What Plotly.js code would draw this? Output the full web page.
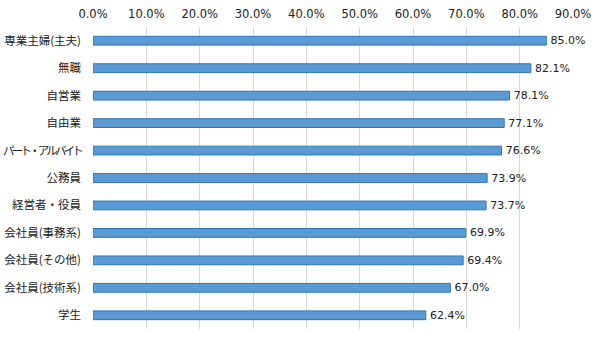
<!DOCTYPE html>
<html><head><meta charset="utf-8">
<script src="https://cdn.plot.ly/plotly-3.0.1.min.js"></script>
<style>html,body{margin:0;padding:0;background:#fff}#chart{width:600px;height:339px}</style>
</head><body><div id="chart"></div>
<script>
const categories = ["専業主婦(主夫)","無職","自営業","自由業","パート・アルバイト","公務員","経営者・役員","会社員(事務系)","会社員(その他)","会社員(技術系)","学生"];
const values = [85.0, 82.1, 78.1, 77.1, 76.6, 73.9, 73.7, 69.9, 69.4, 67.0, 62.4];
const tickVals = [0,10,20,30,40,50,60,70,80,90];
const tickText = tickVals.map(v => v.toFixed(1) + "%");

const jpFont = "'Noto Sans CJK JP', sans-serif";
const numFont = "'DejaVu Sans', Verdana, sans-serif";
const ySize = 11.5, maxW = 78;
function fitLabel(c) {
  let em = 0;
  for (const ch of c) em += ch.charCodeAt(0) < 256 ? 0.35 : 1;
  const w = em * ySize;
  if (w <= maxW) return c;
  const ls = ((maxW - w) / [...c].length).toFixed(2);
  return '<span style="letter-spacing:' + ls + 'px">' + c + '</span>';
}
const yText = categories.map(fitLabel);

Plotly.newPlot("chart", [{
  type: "bar",
  orientation: "h",
  y: categories,
  x: values,
  width: 0.32,
  marker: {color: "#5b9bd5", line: {color: "#2e75b6", width: 1}},
  text: values.map(v => "\u200a" + v.toFixed(1) + "%"),
  textposition: "outside",
  constraintext: "none",
  cliponaxis: false,
  textfont: {family: numFont, size: 11, color: "#222"},
  hoverinfo: "none"
}], {
  width: 600, height: 339,
  margin: {l: 93, r: 27, t: 27, b: 10},
  paper_bgcolor: "#fff", plot_bgcolor: "#fff",
  showlegend: false,
  font: {family: numFont, size: 11, color: "#222"},
  xaxis: {
    side: "top", range: [0, 90], tickvals: tickVals, ticktext: tickText,
    showgrid: true, gridcolor: "#d9d9d9", gridwidth: 1,
    zeroline: false, showline: false, ticks: "",
    ticklabelstandoff: 6,
    tickfont: {family: numFont, size: 11.5, color: "#222"}
  },
  yaxis: {
    autorange: "reversed", categoryorder: "array", categoryarray: categories,
    tickvals: categories, ticktext: yText,
    showgrid: false, zeroline: false, showline: false, ticks: "", ticklen: 0,
    ticklabelstandoff: 11,
    tickfont: {family: jpFont, size: ySize, color: "#222"}
  }
}, {staticPlot: true});
</script></body></html>
